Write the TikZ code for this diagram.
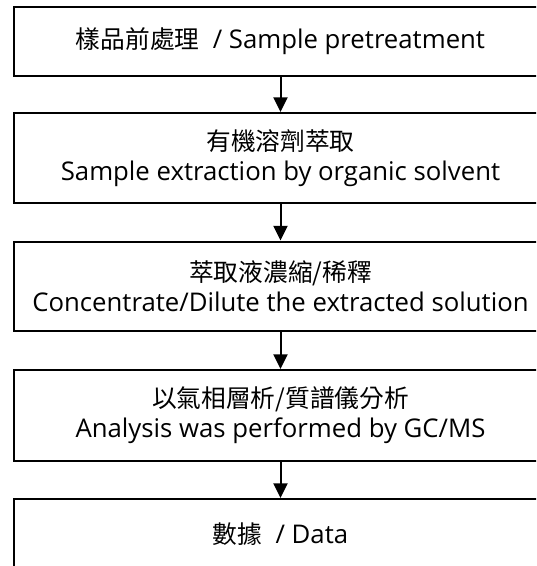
\documentclass[tikz,border=0pt]{standalone}
\usepackage{fontspec}
\setmainfont{Open Sans}
\newfontfamily\cjk[Scale=0.96]{Noto Sans CJK TC}
\usetikzlibrary{arrows.meta}

\tikzset{
    stepbox/.style={draw, line width=1.5pt, minimum width=400.5pt, inner sep=0pt,
        align=center, font=\fontsize{19.3pt}{22.5pt}\selectfont},
    flowarrow/.style={line width=1.5pt, -{Triangle[length=11pt,width=10.5pt]}}
}

\begin{document}
\begin{tikzpicture}[x=0.75pt, y=-0.75pt]

    \useasboundingbox (0,0) rectangle (536,566);
    \clip (0,0) rectangle (536,566);

    \node[stepbox, minimum height=52pt] (prep) at (280.5,41.4)
        {{\cjk 樣品前處理}\ \ / Sample pretreatment};
    \node[stepbox, minimum height=67.5pt] (extract) at (280.5,158)
        {{\cjk 有機溶劑萃取}\\Sample extraction by organic solvent};
    \node[stepbox, minimum height=67.2pt] (conc) at (280.5,286.3)
        {{\cjk 萃取液濃縮/稀釋}\\Concentrate/Dilute the extracted solution};
    \node[stepbox, minimum height=68pt] (gcms) at (280.5,415.3)
        {{\cjk 以氣相層析/質譜儀分析}\\Analysis was performed by GC/MS};
    \node[stepbox, minimum height=52.5pt] (data) at (280.5,534)
        {{\cjk 數據}\ \ / Data};

    \foreach \a/\b in {prep/extract, extract/conc, conc/gcms, gcms/data} {
        \draw[flowarrow] (\a) -- (\b);
    }

\end{tikzpicture}
\end{document}
